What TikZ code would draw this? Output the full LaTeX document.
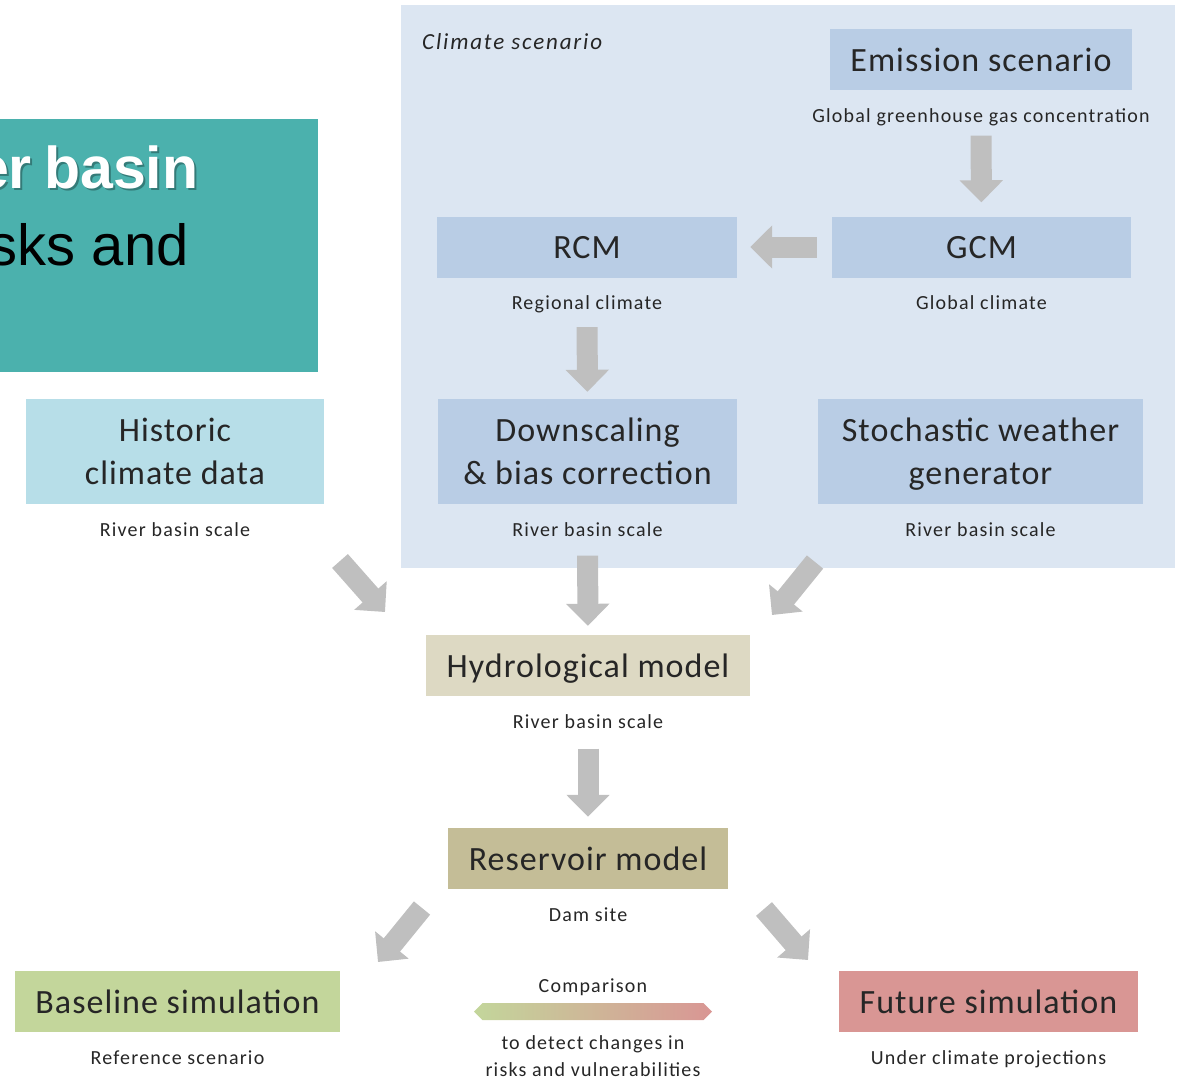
\documentclass[tikz,border=0pt]{standalone}
\usepackage{fontspec}
\setmainfont{Carlito}
\newfontfamily\headfont{Liberation Sans}
\newfontfamily\boxfont[LetterSpace=3]{Carlito}
\newfontfamily\capfont[LetterSpace=6]{Carlito}
\newfontfamily\panelfont[LetterSpace=8]{Carlito}
\usetikzlibrary{positioning}
\usetikzlibrary{arrows.meta}
\usetikzlibrary{shapes.arrows}

\definecolor{panelblue}{HTML}{DCE6F2}
\definecolor{boxblue}{HTML}{B9CDE5}
\definecolor{histblue}{HTML}{B7DEE8}
\definecolor{hydrotan}{HTML}{DDD9C3}
\definecolor{restan}{HTML}{C4BD97}
\definecolor{basegreen}{HTML}{C3D69B}
\definecolor{futred}{HTML}{D99694}
\definecolor{titleteal}{HTML}{4BB1AD}
\definecolor{arrowgray}{HTML}{BFBFBF}

\begin{document}
\begin{tikzpicture}[x=1pt, y=-1pt,
boxtext/.style={inner sep=0, align=center, text=black!85, font=\boxfont\fontsize{34}{43}\selectfont},
box/.style={boxtext, minimum height=61, text height=25, text depth=2},
tallbox/.style={boxtext, minimum height=105},
caption/.style={inner sep=0, text height=13, text depth=4, text=black!85, font=\capfont\fontsize{20}{27}\selectfont},
fat/.style={draw=arrowgray, line width=21, -{Triangle[width=42pt, length=22pt]}},
]
\useasboundingbox (0,0) rectangle (1183,1079);

% title box, cut at the left edge
\node[fill=titleteal, minimum width=318, minimum height=253, inner sep=0](title) at (159,245.5){};
\begin{scope}
\clip (0,119) rectangle (318,372);
\node[anchor=base east, inner sep=0, text=black, opacity=0.3, font=\headfont\bfseries\fontsize{59}{70}\selectfont] at (200.5,190.5) {er\kern-4pt\ basin};
\node[anchor=base east, inner sep=0, text=white, font=\headfont\bfseries\fontsize{59}{70}\selectfont] at (198.5,188) {er\kern-4pt\ basin};
\node[anchor=base east, inner sep=0, text=black, font=\headfont\fontsize{58}{70}\selectfont] at (189,265) {sks and};
\end{scope}

% climate scenario panel
\node[fill=panelblue, minimum width=774, minimum height=563, inner sep=0](panel) at (788,286.5){};
\node[anchor=west, inner sep=0, text=black!85, font=\panelfont\itshape\fontsize{23}{27}\selectfont] at (422,42) {Climate scenario};

\node[box, fill=boxblue, minimum width=302](emis) at (981,59.5) {Emission scenario};
\node[caption, below=19pt of emis](ghg) {Global greenhouse gas concentration};
\node[box, fill=boxblue, minimum width=299](gcm) at (981.5,247) {GCM};
\node[caption, below=19pt of gcm](gcmcap) {Global climate};
\node[box, fill=boxblue, minimum width=300](rcm) at (587,247) {RCM};
\node[caption, below=19pt of rcm](rcmcap) {Regional climate};
\node[tallbox, fill=boxblue, minimum width=299](down) at (587.5,451.5) {Downscaling\\\& bias correction};
\node[caption, below=19pt of down](downcap) {River basin scale};
\node[tallbox, fill=boxblue, minimum width=325](stoch) at (980.5,451.5) {Stochastic weather\\\raisebox{0pt}[\height][0pt]{generator}};
\node[caption, below=19pt of stoch](stochcap) {River basin scale};
\node[tallbox, fill=histblue, minimum width=298](hist) at (175,451.5) {Historic\\climate data};
\node[caption, below=19pt of hist](histcap) {River basin scale};

\node[box, fill=hydrotan, minimum width=324](hydro) at (588,665.5) {Hydrological model};
\node[caption, below=19pt of hydro](hydrocap) {River basin scale};
\node[box, fill=restan, minimum width=280](res) at (588,858.5) {Reservoir model};
\node[caption, below=19pt of res](rescap) {Dam site};

\node[box, fill=basegreen, minimum width=325](base) at (177.5,1001.5) {Baseline simulation};
\node[caption, below=19pt of base](basecap) {Reference scenario};
\node[box, fill=futred, minimum width=299](fut) at (988.5,1001.5) {Future simulation};
\node[caption, below=19pt of fut](futcap) {Under climate projections};

% comparison
\node[caption](cmp) at (593,988) {Comparison};
\node[double arrow, double arrow head extend=0pt, minimum height=238, minimum width=17, inner sep=0, left color=basegreen, right color=futred](cmparrow) at (593,1011.5) {};
\node[inner sep=0, align=center, text=black!85, font=\capfont\fontsize{20}{27}\selectfont](cmpcap) at (593,1056) {to detect changes in\\risks and vulnerabilities};

% arrows
\coordinate (h1) at (340,561);
\coordinate (h2) at (385,612);
\coordinate (s1) at (815,562);
\coordinate (s2) at (772,615);
\coordinate (r1) at (422,908);
\coordinate (r2) at (378,962);
\coordinate (f1) at (764,909);
\coordinate (f2) at (808,960);
\draw[fat, shorten <=9, shorten >=14] (ghg.south) -- (gcm.north);
\draw[fat, shorten <=15, shorten >=13] (gcm.west) -- (rcm.east);
\draw[fat, shorten <=13, shorten >=7] (rcmcap.south) -- (down.north);
\draw[fat, shorten <=15, shorten >=9] (downcap.south) -- (hydro.north);
\draw[fat, shorten <=16, shorten >=11] (hydrocap.south) -- (res.north);
\draw[fat] (h1) -- (h2);
\draw[fat] (s1) -- (s2);
\draw[fat] (r1) -- (r2);
\draw[fat] (f1) -- (f2);
\end{tikzpicture}
\end{document}
